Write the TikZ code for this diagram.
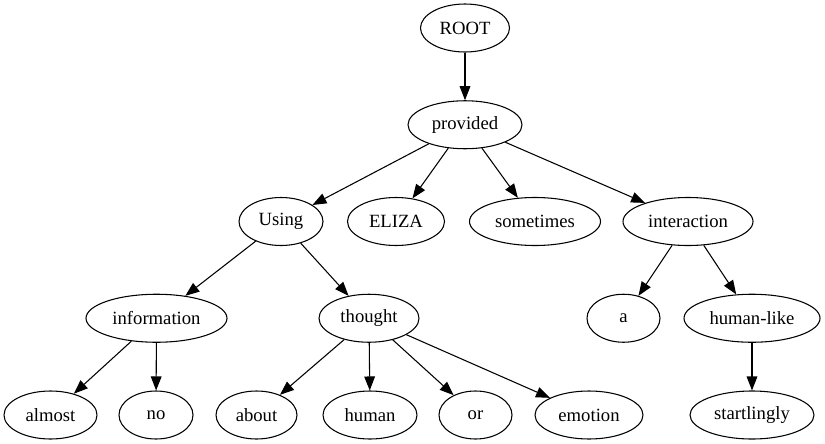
\documentclass[tikz,border=0pt]{standalone}
\usepackage{fontspec}
\setmainfont{Liberation Serif}
\usetikzlibrary{arrows.meta,shapes.geometric}

\begin{document}
\begin{tikzpicture}[
    x=0.75pt, y=-0.75pt,
    word/.style={
        draw,
        thick,
        ellipse,
        inner sep=0pt,
        minimum height=36pt,
        font=\fontsize{14}{16}\selectfont
    },
    >={Triangle[length=10.5pt,width=8pt]}
]
\useasboundingbox (0,0) rectangle (825,443);

\node[word, minimum width=66.75pt] (root) at (465,28) {ROOT};

\node[word, minimum width=85.5pt] (provided) at (465,124.75) {provided};

\node[word, minimum width=63pt] (using) at (281,221.5) {Using};
\node[word, minimum width=72.75pt] (eliza) at (396,221.5) {ELIZA};
\node[word, minimum width=98.25pt] (sometimes) at (535,221.5) {sometimes};
\node[word, minimum width=97.5pt] (interaction) at (688,221.5) {interaction};

\node[word, minimum width=105.75pt] (information) at (156.5,318.25) {information};
\node[word, minimum width=75pt] (thought) at (369,318.25) {thought};
\node[word, minimum width=54.75pt] (a) at (623.5,318.25) {a};
\node[word, minimum width=102pt] (humanlike) at (752,318.25) {human-like};

\node[word, minimum width=69.75pt] (almost) at (50.5,415) {almost};
\node[word, minimum width=55.5pt] (no) at (156,415) {no};
\node[word, minimum width=60.75pt] (about) at (256.5,415) {about};
\node[word, minimum width=70.5pt] (human) at (370,415) {human};
\node[word, minimum width=54.75pt] (or) at (475.5,415) {or};
\node[word, minimum width=81pt] (emotion) at (589,415) {emotion};
\node[word, minimum width=93pt] (startlingly) at (752,415) {startlingly};

\draw[->, thick] (root) -- (provided);
\draw[->, thick] (provided) -- (using);
\draw[->, thick] (provided) -- (eliza);
\draw[->, thick] (provided) -- (sometimes);
\draw[->, thick] (provided) -- (interaction);
\draw[->, thick] (using) -- (information);
\draw[->, thick] (using) -- (thought);
\draw[->, thick] (information) -- (almost);
\draw[->, thick] (information) -- (no);
\draw[->, thick] (thought) -- (about);
\draw[->, thick] (thought) -- (human);
\draw[->, thick] (thought) -- (or);
\draw[->, thick] (thought) -- (emotion);
\draw[->, thick] (interaction) -- (a);
\draw[->, thick] (interaction) -- (humanlike);
\draw[->, thick] (humanlike) -- (startlingly);

\end{tikzpicture}
\end{document}
